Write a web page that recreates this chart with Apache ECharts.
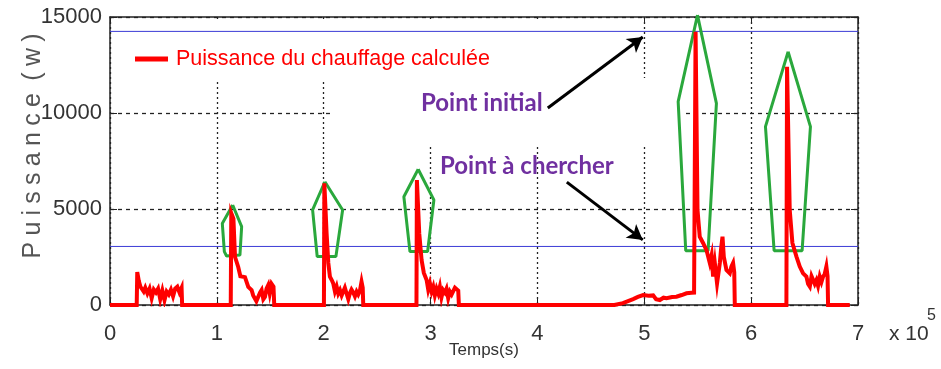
<!DOCTYPE html>
<html>
<head>
<meta charset="utf-8">
<script src="https://cdn.jsdelivr.net/npm/echarts@6/dist/echarts.min.js"></script>
<style>
  html, body { margin: 0; padding: 0; background: #fff; }
  #main { width: 941px; height: 369px; }
</style>
</head>
<body>
<div id="main"></div>
<script>
// temps (s) et puissance (W)
var temps = [0, 25000, 25500, 27000, 28500, 30000, 31500, 33000, 35000, 37000, 39000, 41000, 43000, 45000, 47000, 49000, 51000, 53000, 55000, 57000, 59000, 61000, 63000, 65000, 67000, 67500,
    113000, 113500, 115500, 117000, 120000, 122000, 123200, 126300, 129400, 131000, 132500, 134000, 135600, 137000, 138700, 140500, 141900, 143500, 145000, 146500, 148100, 149500, 151200, 153000, 153700,
    200200, 200600, 202700, 204300, 205800, 207500, 208900, 210500, 212100, 213600, 215200, 216800, 218300, 219800, 221400, 223000, 224500, 226000, 227600, 229200, 230800, 232300, 233900, 235400, 236500, 237000,
    286800, 287200, 289400, 291600, 293700, 296300, 297800, 299400, 301000, 302500, 304000, 305600, 307200, 308700, 310200, 311800, 313400, 314900, 316500, 318100, 319700, 321200, 322800, 324300, 325900, 326500,
    472000, 480000, 489600, 494000, 498900, 504000, 508300, 511000, 514500, 518000, 520800, 526000, 530100, 535000, 539500, 544200, 546600, 548000, 549800, 551900, 555000, 558200, 561300, 563000, 564400, 566000, 568100, 570700, 572000, 573200, 574400, 576900, 580000, 581500, 583100, 584200, 584700,
    633000, 633600, 636100, 638600, 642400, 645500, 648600, 651700, 653300, 654900, 656500, 658000, 659500, 661100, 662600, 664200, 665800, 667300, 668800, 670400, 671500, 672000, 692300];
var puissance = [0, 0, 1720, 1250, 950, 1050, 700, 900, 600, 850, 350, 800, 650, 850, 300, 750, 250, 700, 550, 800, 450, 850, 950, 650, 900, 0,
    0, 4790, 4500, 2500, 1980, 1500, 1400, 1450, 940, 1000, 780, 500, 420, 200, 260, 650, 780, 300, 420, 850, 1040, 600, 1100, 950, 0,
    0, 6340, 3730, 2190, 1480, 1300, 1130, 700, 960, 600, 780, 500, 700, 900, 600, 300, 610, 800, 650, 450, 700, 550, 750, 1210, 900, 0,
    0, 6510, 3730, 2340, 1670, 1300, 800, 1130, 700, 950, 500, 850, 600, 950, 400, 780, 650, 850, 350, 700, 550, 600, 900, 960, 750, 0,
    0, 100, 310, 420, 520, 480, 500, 300, 260, 380, 350, 420, 430, 520, 610, 640, 650, 14230, 4950, 3560, 3230, 2860, 2190, 2600, 1480, 2190, 1130, 2190, 3000, 3560, 2520, 1820, 1650, 2000, 2190, 1700, 0,
    0, 12410, 4950, 3230, 2520, 2000, 1650, 1480, 1100, 960, 1500, 1480, 1100, 1300, 1000, 1480, 1200, 1480, 1600, 2000, 1500, 0, 0];

// contours verts autour des pics [t, P]
var contour1 = [[114800, 5210], [123200, 4080], [121600, 2600], [109100, 2550], [107000, 2780], [105100, 4250], [114800, 5210]];
var contour2 = [[201100, 6420], [217700, 4950], [211400, 2520], [193900, 2520], [189600, 4950], [201100, 6420]];
var contour3 = [[288400, 7070], [303100, 5470], [297200, 2780], [280700, 2780], [275000, 5640], [288400, 7070]];
var contour4 = [[549800, 15100], [567500, 10500], [559700, 2830], [538800, 2830], [531700, 10590], [549800, 15100]];
var contour5 = [[634600, 13190], [655500, 9290], [647700, 2830], [621500, 2830], [613400, 9290], [634600, 13190]];

// lignes bleues horizontales
var niveauInitial = 14250;
var niveauCherche = 3050;

// fleches [depart, arrivee]
var flecheInitial = [[409700, 10260], [498600, 13960]];
var flecheCherche = [[427500, 6400], [498600, 3390]];

var xTicks = [0, 1, 2, 3, 4, 5, 6, 7];
var yTicks = [0, 5000, 10000, 15000];

var SANS = '"Liberation Sans", Arial, sans-serif';
var chart = echarts.init(document.getElementById('main'));

var serieRouge = [];
for (var i = 0; i < temps.length; i++) {
    serieRouge.push([temps[i], puissance[i]]);
}

var contourSerie = function (data) {
    return {
        type: 'line',
        data: data,
        showSymbol: false,
        symbol: 'none',
        clip: false,
        silent: true,
        z: 4,
        lineStyle: {color: '#2aa83c', width: 3},
        xAxisIndex: 0, yAxisIndex: 0
    };
};

var niveauSerie = function (y) {
    return {
        type: 'line',
        data: [[0, y], [700000, y]],
        symbol: 'none',
        silent: true,
        z: 3,
        lineStyle: {color: '#3b3bd6', width: 1}
    };
};

var flecheSerie = function (f) {
    return {
        type: 'line',
        data: [],
        silent: true,
        markLine: {
            silent: true,
            animation: false,
            symbol: ['none', 'arrow'],
            symbolSize: [13, 15],
            label: {show: false},
            lineStyle: {color: '#000', width: 3, type: 'solid'},
            data: [[{coord: f[0]}, {coord: f[1]}]]
        }
    };
};

var cadre = {show: true, onZero: false, lineStyle: {color: '#222', width: 1.5}};
var graduation = {show: true, inside: true, length: 7, lineStyle: {color: '#222'}};

var option = {
    animation: false,
    backgroundColor: '#fff',
    grid: {left: 110, right: 83, top: 17, bottom: 64, containLabel: false, outerBoundsMode: 'none'},
    legend: {
        show: true,
        left: 135,
        top: 48,
        padding: 0,
        data: ['Puissance du chauffage calculée'],
        icon: 'rect',
        itemWidth: 33,
        itemHeight: 5,
        textStyle: {color: '#ff0000', fontSize: 21.5, fontFamily: SANS, padding: [0, 0, 0, 3]}
    },
    xAxis: [{
        type: 'value',
        position: 'bottom',
        min: 0, max: 700000, interval: 100000,
        name: 'Temps(s)',
        nameLocation: 'middle',
        nameGap: 37,
        nameMoveOverlap: false,
        nameTextStyle: {color: '#333', fontSize: 17, fontFamily: SANS},
        axisLine: cadre,
        axisTick: graduation,
        axisLabel: {
            margin: 18, color: '#333', fontSize: 22, fontFamily: SANS,
            formatter: function (v) { return String(xTicks[Math.round(v / 100000)]); }
        },
        splitLine: {show: true, lineStyle: {color: '#222', type: [2, 3], width: 1.3}}
    }, {
        type: 'value',
        position: 'top',
        min: 0, max: 700000, interval: 100000,
        axisLine: cadre,
        axisTick: graduation,
        axisLabel: {show: false},
        splitLine: {show: false}
    }],
    yAxis: [{
        type: 'value',
        position: 'left',
        min: 0, max: 15000, interval: 5000,
        name: 'P\u2005u\u2005i\u2005s\u2005s\u2005a\u2005n\u2005c\u2005e\u2005\u2005(\u2005w\u2005)',
        nameLocation: 'middle',
        nameRotate: 90,
        nameGap: 64,
        nameMoveOverlap: false,
        nameTextStyle: {color: '#555', fontSize: 25, fontFamily: SANS, padding: [0, 0, 0, 30]},
        axisLine: cadre,
        axisTick: graduation,
        axisLabel: {
            margin: 8, color: '#333', fontSize: 22, fontFamily: SANS,
            formatter: function (v) { return String(yTicks[Math.round(v / 5000)]); }
        },
        splitLine: {show: true, lineStyle: {color: '#222', type: [4, 4], width: 1.3}}
    }, {
        type: 'value',
        position: 'right',
        min: 0, max: 15000, interval: 5000,
        axisLine: cadre,
        axisTick: graduation,
        axisLabel: {show: false},
        splitLine: {show: false}
    }],
    graphic: [
        // cadres blancs du legende et des annotations qui masquent la grille
        {type: 'rect', left: 112, top: 19, z: 1, shape: {width: 488, height: 60}, style: {fill: '#fff'}},
        {type: 'rect', left: 330, top: 78, z: 1, shape: {width: 352, height: 68}, style: {fill: '#fff'}},
        {type: 'text', left: 421, top: 91, z: 10, style: {text: 'Point initial', fill: '#7030a0', font: 'bold 24px Lato, "Open Sans", sans-serif'}},
        {type: 'text', left: 440, top: 154, z: 10, style: {text: 'Point à chercher', fill: '#7030a0', font: 'bold 24px Lato, "Open Sans", sans-serif'}},
        {type: 'text', left: 889, top: 324, z: 10, style: {text: 'x 10', fill: '#333', font: '21px ' + SANS}},
        {type: 'text', left: 927, top: 308, z: 10, style: {text: '5', fill: '#333', font: '16px ' + SANS}}
    ],
    series: [
        niveauSerie(niveauInitial),
        niveauSerie(niveauCherche),
        {
            name: 'Puissance du chauffage calculée',
            type: 'line',
            data: serieRouge,
            symbol: 'none',
            z: 5,
            itemStyle: {color: '#ff0000'},
            lineStyle: {color: '#ff0000', width: 4, join: 'miter'}
        },
        contourSerie(contour1),
        contourSerie(contour2),
        contourSerie(contour3),
        contourSerie(contour4),
        contourSerie(contour5),
        flecheSerie(flecheInitial),
        flecheSerie(flecheCherche)
    ]
};
chart.setOption(option);
</script>
</body>
</html>
